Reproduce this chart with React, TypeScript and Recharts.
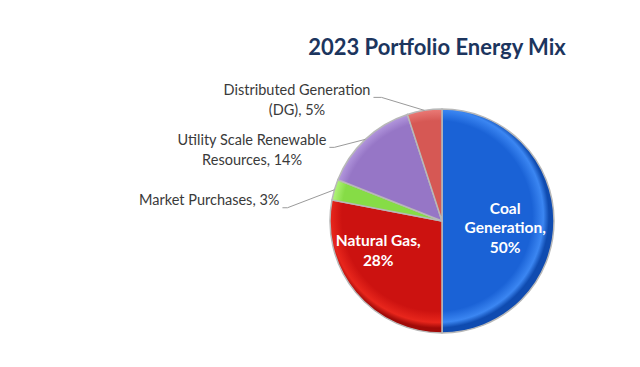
import { PieChart, Pie, Cell } from 'recharts';

const SOURCES = [
  'Coal Generation',
  'Natural Gas',
  'Market Purchases',
  'Utility Scale Renewable Resources',
  'Distributed Generation (DG)',
];
const SHARES = [50, 28, 3, 14, 5];
// each label split in lines the way the slide wraps them
const LABEL_LINES = [
  ['Coal', 'Generation,', '50%'],
  ['Natural Gas,', '28%'],
  ['Market Purchases, 3%'],
  ['Utility Scale Renewable', 'Resources, 14%'],
  ['Distributed Generation', '(DG), 5%'],
];
const COLORS = [
  ['#3b86f2', '#1a62d6', '#0f4bb0'],
  ['#e8261c', '#cc1210', '#a00a08'],
  ['#b4f57e', '#86dc46', '#62b82c'],
  ['#b69be0', '#9676c6', '#7558a6'],
  ['#ea7a76', '#d65854', '#b53c39'],
];

const FONT = 'Lato, "Open Sans", sans-serif';
const RAD = Math.PI / 180;

const data = SOURCES.map((name, i) => ({ name, value: SHARES[i] }));

// where the leader line starts, relative to the slice edge
const OUTSIDE: Record<number, { dx: number; dy: number; bend: number }> = {
  2: { dx: -52, dy: 18, bend: 5 },
  3: { dx: -36, dy: 8, bend: 5 },
  4: { dx: -51, dy: -13, bend: 8 },
};

function renderLabel(props: any) {
  const { cx, cy, midAngle, outerRadius, index } = props;
  const lines = LABEL_LINES[index];
  const cos = Math.cos(-midAngle * RAD);
  const sin = Math.sin(-midAngle * RAD);

  if (index < 2) {
    const r = outerRadius * 0.6;
    const x = cx + r * cos + (index === 0 ? -4 : -12);
    const y = cy + r * sin + (index === 0 ? 6 : -14);
    const lh = 19.5;
    const top = y - ((lines.length - 1) * lh) / 2;
    return (
      <text
        x={x}
        y={top}
        textAnchor="middle"
        dominantBaseline="central"
        fill="#ffffff"
        fontFamily={FONT}
        fontWeight={700}
        fontSize={15.5}
      >
        {lines.map((l, i) => (
          <tspan key={i} x={x} y={top + i * lh}>
            {l}
          </tspan>
        ))}
      </text>
    );
  }

  const o = OUTSIDE[index];
  const px = cx + outerRadius * cos;
  const py = cy + outerRadius * sin;
  const lx = px + o.dx;
  const ly = py + o.dy;
  const lh = 20;
  const textX = lx - 3;
  const firstY = ly - 8;
  return (
    <g>
      <polyline
        points={`${lx},${ly} ${lx + o.bend},${ly} ${px},${py}`}
        fill="none"
        stroke="#9a9a9a"
        strokeWidth={1}
      />
      <text
        x={textX}
        y={firstY}
        textAnchor="end"
        dominantBaseline="central"
        fill="#3a3a3a"
        fontFamily={FONT}
        fontSize={14.5}
      >
        {lines[0]}
      </text>
      {lines.length > 1 && (
        <text
          x={textX}
          y={firstY + lh}
          textAnchor="middle"
          dominantBaseline="central"
          fill="#3a3a3a"
          fontFamily={FONT}
          fontSize={14.5}
          ref={(el) => {
            if (!el) return;
            const prev = el.previousSibling as SVGTextElement | null;
            if (prev && prev.getBBox) {
              const b = prev.getBBox();
              el.setAttribute('x', String(b.x + b.width / 2));
            }
          }}
        >
          {lines[1]}
        </text>
      )}
    </g>
  );
}

export default function App() {
  return (
    <div style={{ position: 'absolute', left: 0, top: 0, width: 640, height: 367, background: '#fff' }}>
      <div
        style={{
          position: 'absolute',
          left: 337,
          width: 200,
          top: 32,
          whiteSpace: 'nowrap',
          display: 'flex',
          justifyContent: 'center',
          fontFamily: FONT,
          fontWeight: 700,
          fontSize: 22,
          color: '#1c355e',
          lineHeight: '30px',
        }}
      >
        2023 Portfolio Energy Mix
      </div>
      <PieChart width={640} height={367}>
        <defs>
          {COLORS.map((c, i) => (
            <radialGradient key={i} id={`slice${i}`} cx="437" cy="216" r="112" gradientUnits="userSpaceOnUse">
              <stop offset="0%" stopColor={c[1]} />
              <stop offset="85%" stopColor={c[1]} />
              <stop offset="95%" stopColor={c[0]} />
              <stop offset="100%" stopColor={c[2]} />
            </radialGradient>
          ))}
        </defs>
        <Pie
          data={data}
          dataKey="value"
          nameKey="name"
          cx={437}
          cy={216}
          outerRadius={112}
          startAngle={90}
          endAngle={-270}
          stroke="#b8b8b8"
          strokeWidth={1.5}
          label={renderLabel}
          labelLine={false}
          isAnimationActive={false}
        >
          {data.map((d, i) => (
            <Cell key={d.name} fill={`url(#slice${i})`} />
          ))}
        </Pie>
      </PieChart>
    </div>
  );
}
